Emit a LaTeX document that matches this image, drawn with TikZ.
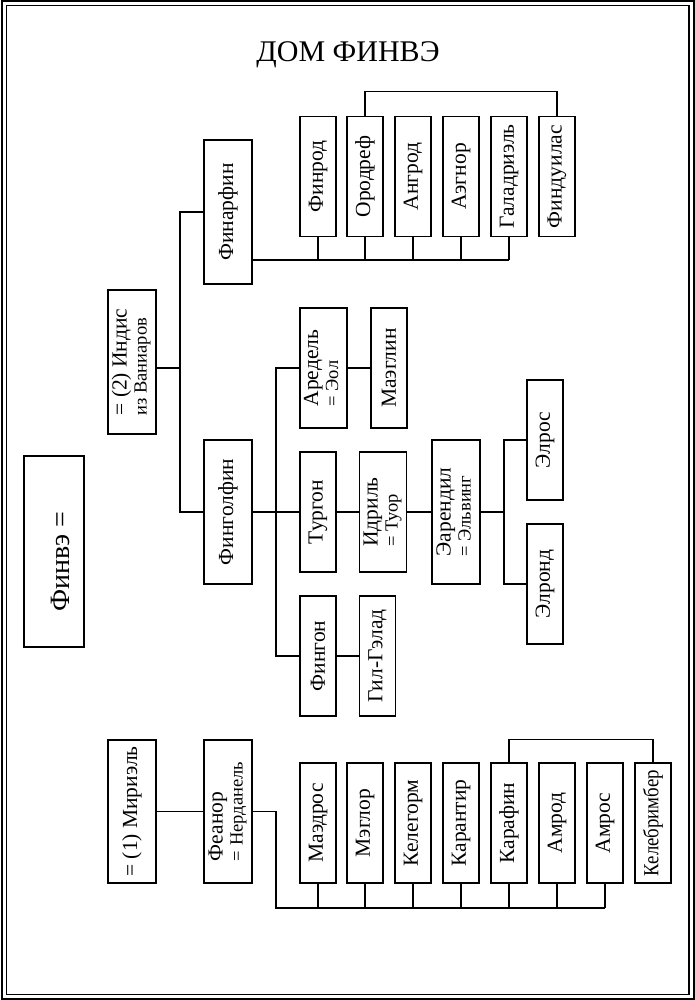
\documentclass[tikz,border=0pt]{standalone}
\usepackage{fontspec}
\setmainfont{Liberation Serif}
\usepackage{graphicx}
\usepackage{tikz}

\newsavebox{\namebox}
\newcommand{\vlabel}[2][106pt]{\sbox{\namebox}{#2}\rotatebox{90}{\ifdim\wd\namebox>#1\resizebox{#1}{\height}{\usebox{\namebox}}\else\usebox{\namebox}\fi}}
\newcommand{\vpair}[2]{\rotatebox{90}{\begin{tabular}{@{}l@{}}#1\\[-3pt]{\fontsize{18.5}{20}\selectfont #2}\end{tabular}}}

\begin{document}
\begin{tikzpicture}[
    x=1pt, y=-1pt,
    line width=1.1pt,
    person/.style={draw, inner sep=0pt, font=\fontsize{21.5}{23}\selectfont},
    child/.style={person, minimum width=36pt, minimum height=120pt},
    couple/.style={person, minimum width=47pt, minimum height=120pt},
    elder/.style={person, minimum width=48pt, minimum height=144pt}
]
\useasboundingbox (0,0) rectangle (695,1000);

%-------------------------
% Frame and title
%-------------------------
\draw[line width=2pt] (1.5,1.5) rectangle (693.5,998.5);
\draw[line width=1.2pt] (6.5,5.5) rectangle (689,994.5);
\node[anchor=base] (title) at (348,62) {\fontsize{30}{32}\selectfont ДОМ ФИНВЭ};

%-------------------------
% Finwe and his wives
%-------------------------
\node[person, minimum width=60pt, minimum height=191pt, font=\fontsize{28}{30}\selectfont] (finwe) at (54,551.5)
    {\rotatebox{90}{\raisebox{-6pt}[\height][\depth]{\kern-10pt Финвэ =\kern10pt}}};
\node[elder] (indis) at (132,362) {\vpair{= (2) Индис}{из Ваниаров}};
\node[elder, minimum height=143pt] (miriel) at (132,811.5) {\vlabel[136pt]{= (1) Мириэль}};

%-------------------------
% Sons of Finwe
%-------------------------
\node[elder] (finarfin) at (228,212) {\vlabel{Финарфин}};
\node[elder] (fingolfin) at (228,512) {\vlabel{Финголфин}};
\node[elder, minimum height=143pt] (feanor) at (228,811.5) {\vpair{Феанор}{= Нерданель}};

% Spine
\coordinate (spineA) at (180,368);
\draw (finarfin.west) -| (spineA) |- (fingolfin.west);
\draw (indis.east |- spineA) -- (spineA);
\draw (miriel.east) -- (feanor.west);

%-------------------------
% House of Finarfin
%-------------------------
\node[child] (finrod) at (318,176.5) {\vlabel{Финрод}};
\node[child] (orodreth) at (365,176.5) {\vlabel{Ородреф}};
\node[child] (angrod) at (413,176.5) {\vlabel{Ангрод}};
\node[child] (aegnor) at (461,176.5) {\vlabel{Аэгнор}};
\node[child] (galadriel) at (509,176.5) {\vlabel{Галадриэль}};
\node[child] (finduilas) at (557,176.5) {\vlabel{Финдуилас}};

\coordinate (busA) at (252,260);
\draw (finarfin.east |- busA) -- (busA -| galadriel.south);
\draw (finrod.south) -- (finrod.south |- busA);
\draw (orodreth.south) -- (orodreth.south |- busA);
\draw (angrod.south) -- (angrod.south |- busA);
\draw (aegnor.south) -- (aegnor.south |- busA);
\draw (galadriel.south) -- (galadriel.south |- busA);
\draw (orodreth.north) -- ++(0,-24) -| (finduilas.north);

%-------------------------
% House of Fingolfin
%-------------------------
\node[couple] (aredel) at (323.5,368) {\vpair{Аредель}{= Эол}};
\node[child] (maeglin) at (389,368) {\vlabel{Маэглин}};
\node[child] (turgon) at (318,512) {\vlabel{Тургон}};
\node[couple] (idril) at (383,512) {\vpair{Идриль}{= Туор}};
\node[elder] (earendil) at (456,512) {\vpair{Эарендил}{= Эльвинг}};
\node[child] (elros) at (545,440) {\vlabel{Элрос}};
\node[child] (elrond) at (545,584) {\vlabel{Элронд}};
\node[child] (fingon) at (318,656) {\vlabel{Фингон}};
\node[child] (gilgalad) at (377.5,656) {\vlabel{Гил-Гэлад}};

\coordinate (spineB) at (276,512);
\draw (fingolfin.east) -- (turgon.west);
\draw (aredel.west) -| (spineB) |- (fingon.west);
\draw (aredel.east) -- (maeglin.west);
\draw (turgon.east) -- (idril.west);
\draw (idril.east) -- (earendil.west);
\draw (fingon.east) -- (gilgalad.west);

\coordinate (spineC) at (504,512);
\draw (earendil.east) -- (spineC);
\draw (elros.west) -| (spineC) |- (elrond.west);

%-------------------------
% House of Feanor
%-------------------------
\node[child] (maedhros) at (318,823) {\vlabel{Маэдрос}};
\node[child] (maglor) at (365,823) {\vlabel{Мэглор}};
\node[child] (celegorm) at (413,823) {\vlabel{Келегорм}};
\node[child] (caranthir) at (461,823) {\vlabel{Карантир}};
\node[child] (curufin) at (509,823) {\vlabel{Карафин}};
\node[child] (amrod) at (557,823) {\vlabel{Амрод}};
\node[child] (amras) at (605,823) {\vlabel{Амрос}};
\node[child] (celebrimbor) at (653,823) {\vlabel{Келебримбер}};

\coordinate (busB) at (276,908);
\draw (feanor.east) -| (busB) -- (busB -| amras.south);
\draw (maedhros.south) -- (maedhros.south |- busB);
\draw (maglor.south) -- (maglor.south |- busB);
\draw (celegorm.south) -- (celegorm.south |- busB);
\draw (caranthir.south) -- (caranthir.south |- busB);
\draw (curufin.south) -- (curufin.south |- busB);
\draw (amrod.south) -- (amrod.south |- busB);
\draw (amras.south) -- (amras.south |- busB);
\draw (curufin.north) -- ++(0,-23) -| (celebrimbor.north);
\end{tikzpicture}
\end{document}
